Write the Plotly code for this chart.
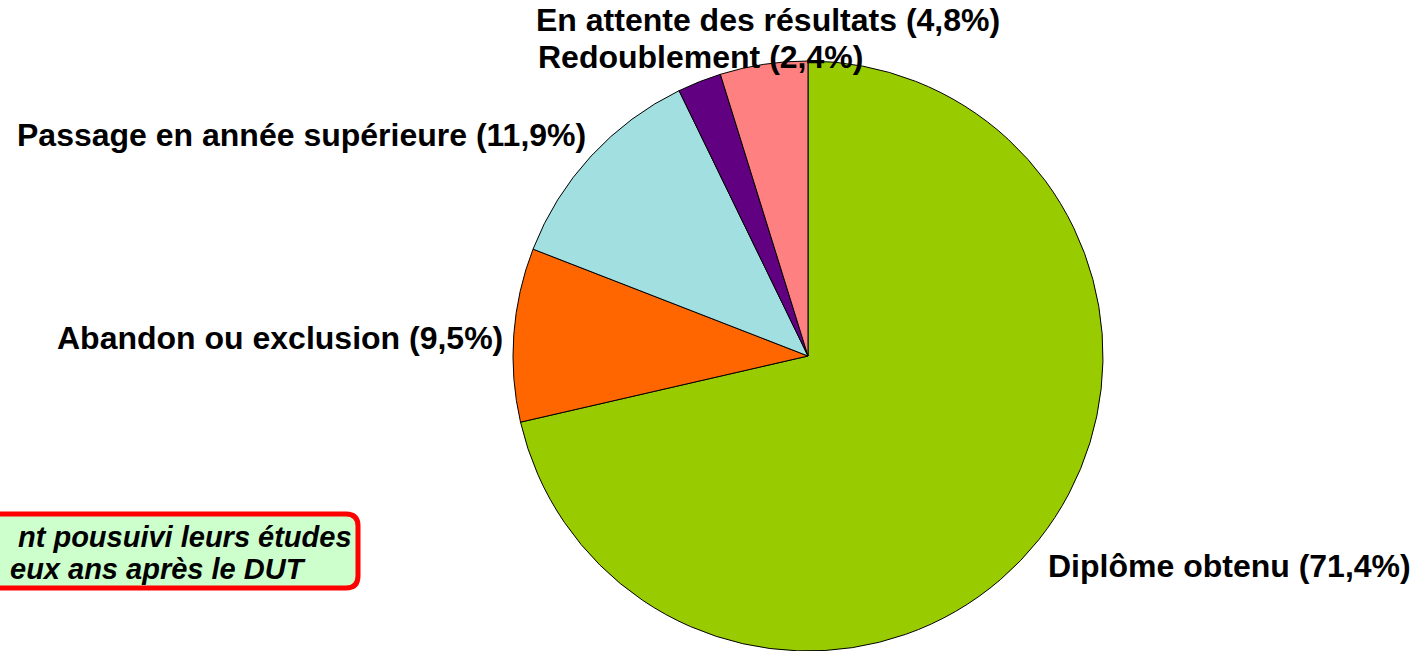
import plotly.graph_objects as go

W, H = 1418, 651

# Outcome two years after the DUT (percent of students)
categories = [
    "Diplôme obtenu",
    "Abandon ou exclusion",
    "Passage en année supérieure",
    "Redoublement",
    "En attente des résultats",
]
values = [71.4, 9.5, 11.9, 2.4, 4.8]
value_labels = ["71,4", "9,5", "11,9", "2,4", "4,8"]
colors = ["#99CC00", "#FF6600", "#A2DFE1", "#610080", "#FF8080"]

# label anchor points in pixels (x, y, xanchor)
label_pos = [
    (1046, 566, "left"),
    (505, 338, "right"),
    (588, 135, "right"),
    (536, 57, "left"),
    (534, 20, "left"),
]


def px(x):
    return x / W


def py(y):
    return 1 - y / H


fig = go.Figure(
    go.Pie(
        labels=categories,
        values=values,
        sort=False,
        direction="clockwise",
        rotation=0,
        marker=dict(colors=colors, line=dict(color="#000000", width=1)),
        textinfo="none",
        hoverinfo="label+percent",
        domain=dict(x=[px(513), px(1103)], y=[py(651), py(61)]),
        showlegend=False,
    )
)

font_main = dict(family="Liberation Sans, Arial, sans-serif", size=32, color="#000000")
font_note = dict(family="Liberation Sans, Arial, sans-serif", size=29, color="#000000")

annotations = []
for cat, lab, (x, y, anchor) in zip(categories, value_labels, label_pos):
    annotations.append(
        dict(
            text=f"<b>{cat} ({lab}%)</b>",
            x=px(x), y=py(y), xref="paper", yref="paper",
            xanchor=anchor, yanchor="middle",
            showarrow=False, font=font_main,
        )
    )

# note box at the bottom-left
note_lines = ["nt pousuivi leurs études", "eux ans après le DUT"]
note_pos = [(354, 537), (308, 569)]
for line, (x, y) in zip(note_lines, note_pos):
    annotations.append(
        dict(
            text=f"<b><i>{line}</i></b>",
            x=px(x), y=py(y), xref="paper", yref="paper",
            xanchor="right", yanchor="middle",
            showarrow=False, font=font_note,
        )
    )

# rounded rectangle for the note
x0, x1, y0, y1, r = -30, 358, 514, 588, 12
path = (
    f"M {px(x0)},{py(y0)} L {px(x1 - r)},{py(y0)} "
    f"Q {px(x1)},{py(y0)} {px(x1)},{py(y0 + r)} "
    f"L {px(x1)},{py(y1 - r)} "
    f"Q {px(x1)},{py(y1)} {px(x1 - r)},{py(y1)} "
    f"L {px(x0)},{py(y1)} Z"
)

fig.update_layout(
    width=W, height=H,
    margin=dict(l=0, r=0, t=0, b=0),
    paper_bgcolor="#FFFFFF",
    plot_bgcolor="#FFFFFF",
    annotations=annotations,
    shapes=[
        dict(
            type="path", path=path, xref="paper", yref="paper",
            fillcolor="#CCFFCC", line=dict(color="#FF0000", width=5),
            layer="below",
        )
    ],
)

fig.write_html("out.html")
